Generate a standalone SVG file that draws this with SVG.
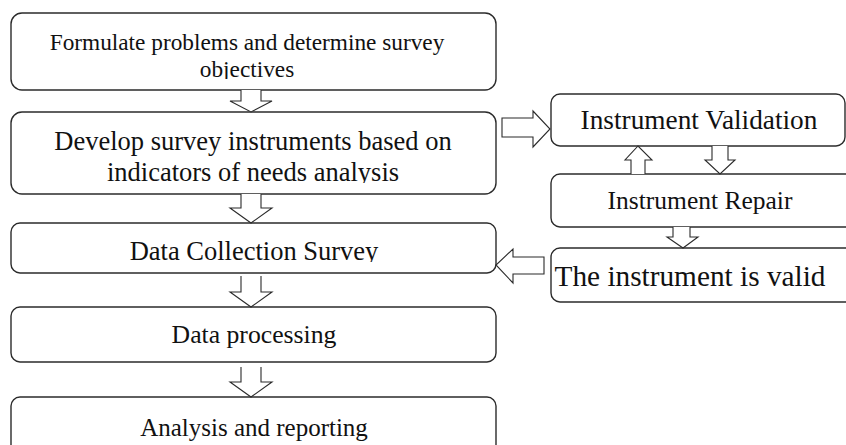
<svg xmlns="http://www.w3.org/2000/svg" width="846" height="445" viewBox="0 0 846 445">
<style>
.box{fill:#fff;stroke:#2b2b2b;stroke-width:1.4}
.arr{fill:#fff;stroke:#2b2b2b;stroke-width:1.1;stroke-linejoin:miter}
text{font-family:"Liberation Serif","Times New Roman",serif;fill:#111;text-anchor:middle}
</style>
<defs>
<clipPath id="c1"><rect x="0" y="0" width="846" height="79"/></clipPath>
<clipPath id="c2"><rect x="0" y="0" width="846" height="183"/></clipPath>
<clipPath id="c3"><rect x="0" y="0" width="846" height="262"/></clipPath>
</defs>
<g id="n1"><rect class="box" x="11" y="13" width="485" height="77" rx="11"/>
<text x="247" y="50" font-size="23.3">Formulate problems and determine survey</text>
<text x="247" y="77" font-size="23.3" clip-path="url(#c1)">objectives</text></g>
<g id="n2"><rect class="box" x="11" y="112" width="485" height="82" rx="11"/>
<text x="253" y="150" font-size="26.5">Develop survey instruments based on</text>
<text x="253" y="181" font-size="26.5" clip-path="url(#c2)">indicators of needs analysis</text></g>
<g id="n3"><rect class="box" x="11" y="223" width="485" height="50" rx="9"/>
<text x="254" y="260" font-size="26.5" clip-path="url(#c3)">Data Collection Survey</text></g>
<g id="n4"><rect class="box" x="11" y="307" width="485" height="55" rx="9"/>
<text x="254" y="343" font-size="25.7">Data processing</text></g>
<g id="n5"><rect class="box" x="11" y="397" width="485" height="70" rx="9"/>
<text x="254" y="436" font-size="25">Analysis and reporting</text></g>
<g id="n6"><rect class="box" x="551" y="94" width="294" height="52" rx="9"/>
<text x="699" y="129" font-size="27.3">Instrument Validation</text></g>
<g id="n7"><rect class="box" x="551" y="174" width="320" height="53" rx="9"/>
<text x="700" y="209" font-size="25.5">Instrument Repair</text></g>
<g id="n8"><rect class="box" x="551" y="248" width="320" height="54" rx="9"/>
<text x="690" y="286" font-size="29.3">The instrument is valid</text></g>
<g id="connectors">
<path class="arr" d="M241,90 V101 H230 L251,112 L272,101 H261 V90"/>
<path class="arr" d="M241,194 V208 H230 L251,223 L272,208 H261 V194"/>
<path class="arr" d="M241,276 V292 H230 L251,307 L272,292 H261 V276"/>
<path class="arr" d="M241,367 V382 H230 L251,397 L272,382 H261 V367"/>
<path class="arr" d="M502,118 H533 V111 L550,129 L533,147 V137 H502 Z"/>
<path class="arr" d="M631,174 V160 H625 L638,146 L652,160 H645 V174"/>
<path class="arr" d="M712,146 V160 H705 L720,174 L735,160 H728 V146"/>
<path class="arr" d="M673,227 V237 H667 L683,248 L698,237 H690 V227"/>
<path class="arr" d="M544,257 H513 V249 L496,265 L513,283 V274 H544 Z"/>
</g>
</svg>
